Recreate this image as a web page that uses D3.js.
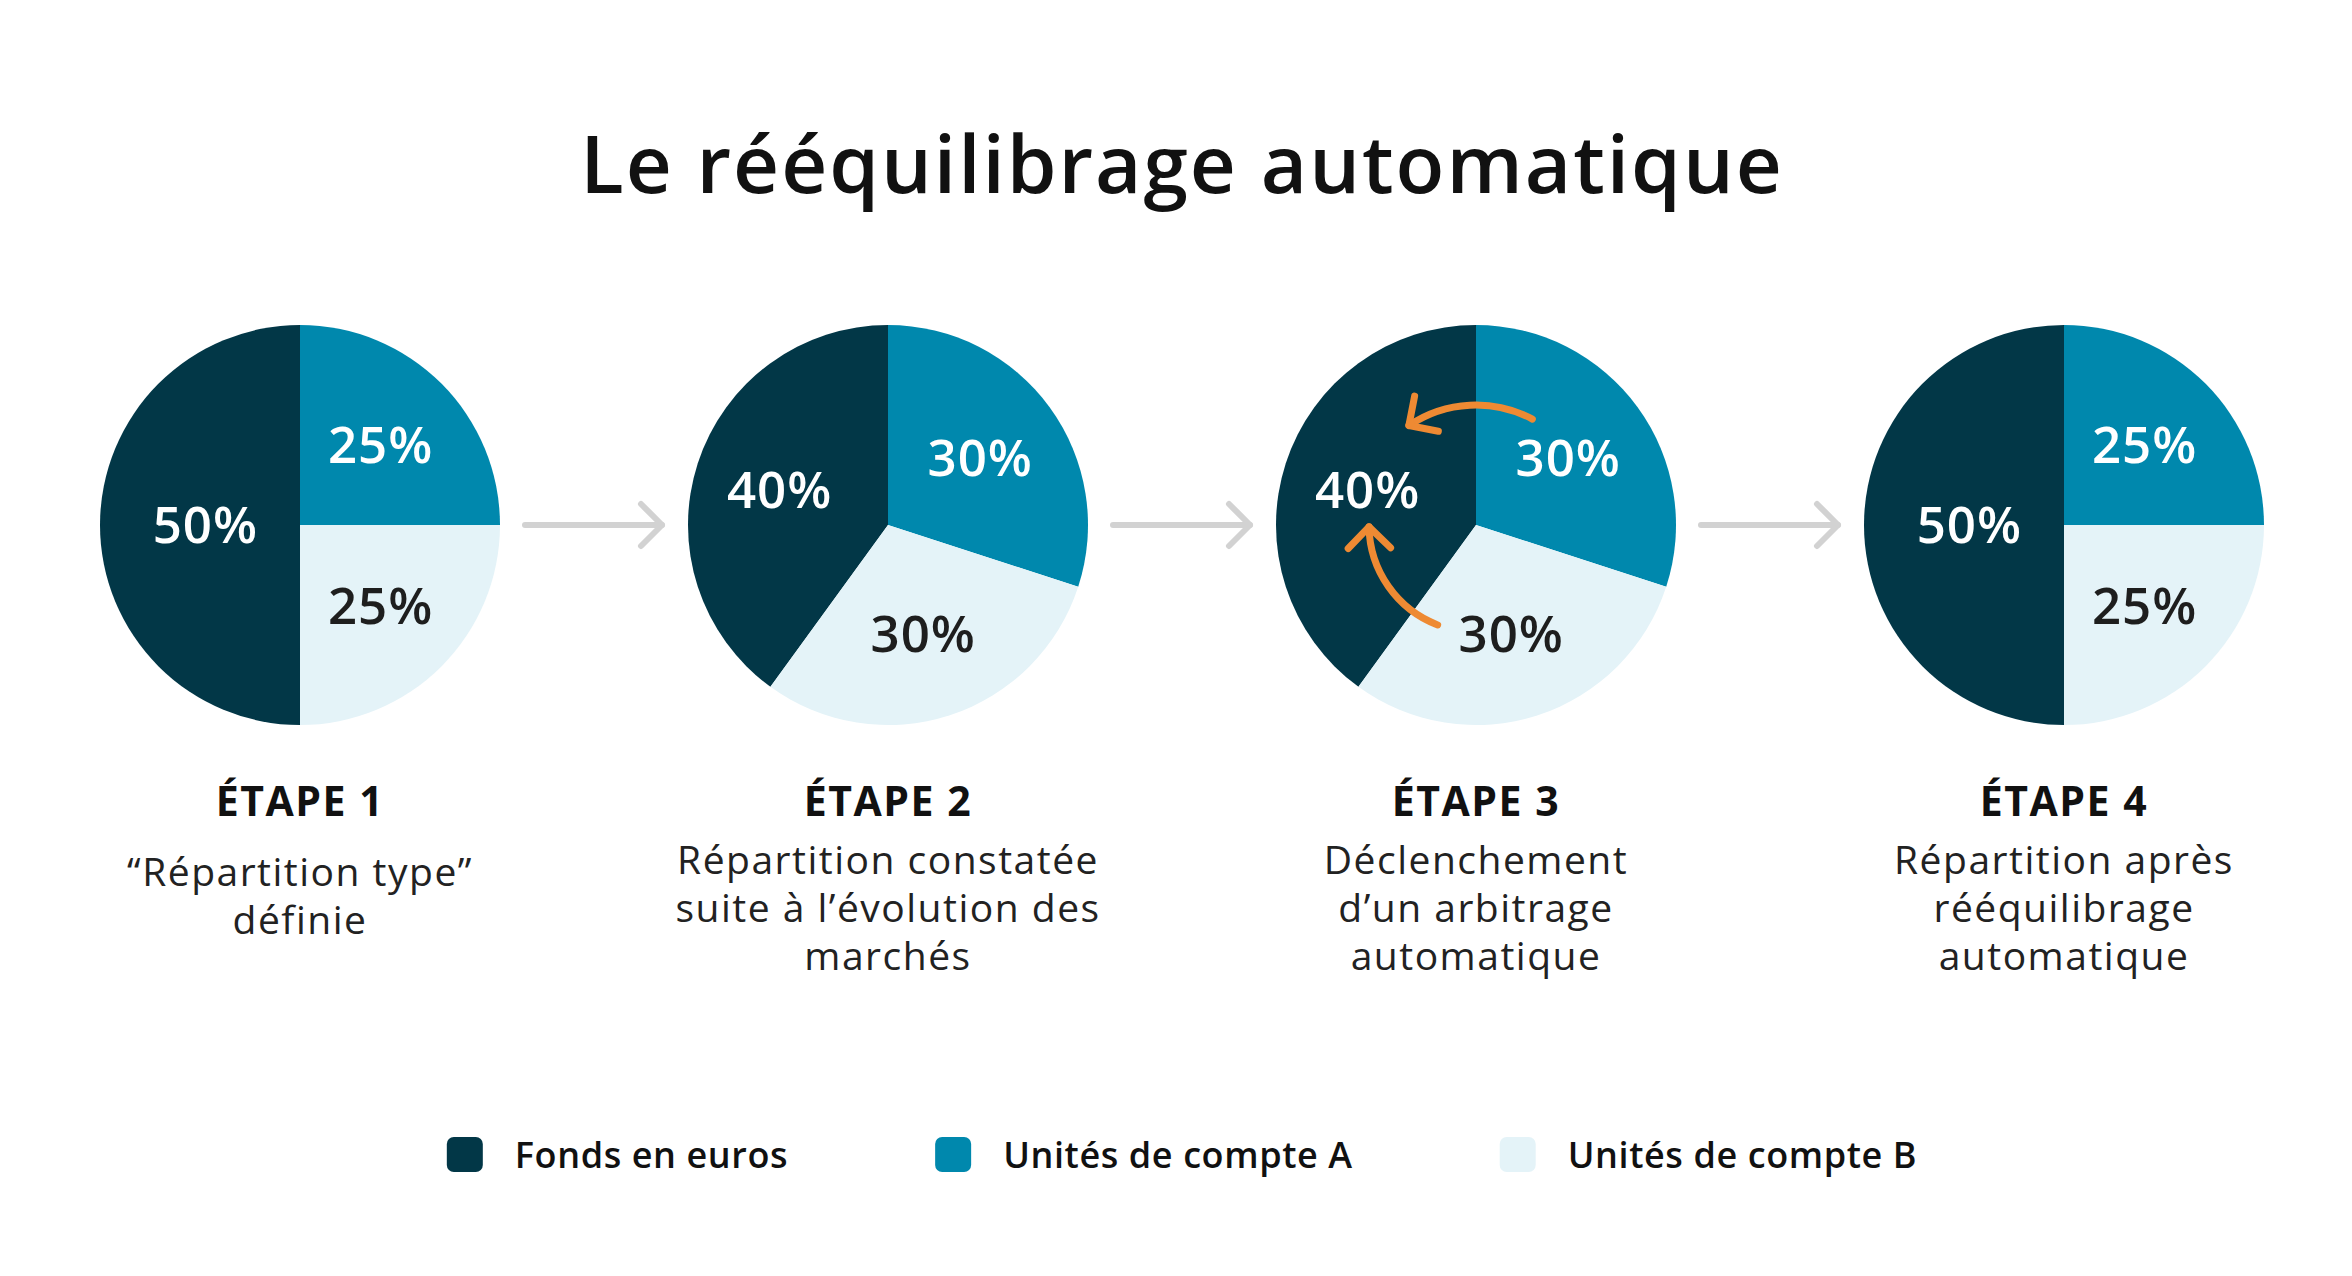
<!DOCTYPE html>
<html>
<head>
<meta charset="utf-8">
<script src="https://cdn.jsdelivr.net/npm/d3@7"></script>
<style>
  body { margin: 0; background: #fff; }
  svg { display: block; }
</style>
</head>
<body>
<svg id="chart" width="2352" height="1276"></svg>
<script>
// ------- Data ------
const categories = ["Fonds en euros", "Unités de compte A", "Unités de compte B"];
const steps = ["ÉTAPE 1", "ÉTAPE 2", "ÉTAPE 3", "ÉTAPE 4"];
const fonds = [50, 40, 40, 50];
const ucA = [25, 30, 30, 25];
const ucB = [25, 30, 30, 25];
const descriptions = [
  ["“Répartition type”", "définie"],
  ["Répartition constatée", "suite à l’évolution des", "marchés"],
  ["Déclenchement", "d’un arbitrage", "automatique"],
  ["Répartition après", "rééquilibrage", "automatique"]
];
// arbitrage arrows in step 3 (angles in degrees, clockwise from top)
const arbitrage = [
  { step: 2, from: 28, to: -34, rFrac: 0.6 },
  { step: 2, from: -159, to: -91, rFrac: 0.535 }
];

const colors = ["#023747", "#0088ad", "#e4f3f8"];
const labelColors = ["#ffffff", "#ffffff", "#1e1e1e"];
const font = "'Open Sans', 'Noto Sans', sans-serif";

const svg = d3.select("#chart");
const width = +svg.attr("width");

// graph title
svg.append("text")
  .attr("text-anchor", "middle")
  .attr("font-size", "80px")
  .attr("font-family", font)
  .attr("font-weight", 600)
  .attr("letter-spacing", "2px")
  .attr("fill", "#111")
  .attr("x", 1182)
  .attr("y", 193)
  .text("Le rééquilibrage automatique");

const cy = 525;
const radius = 200;
const x = d3.scalePoint().domain(steps).range([300, 2064]);
const color = d3.scaleOrdinal().domain(categories).range(colors);
const labelColor = d3.scaleOrdinal().domain(categories).range(labelColors);

const arc = d3.arc().innerRadius(0).outerRadius(radius);
const labelArc = d3.arc().innerRadius(radius * 0.57).outerRadius(radius * 0.57);

steps.forEach((s, i) => {
  const values = [fonds[i], ucA[i], ucB[i]];
  const start = -2 * Math.PI * fonds[i] / 100;
  const pie = d3.pie().sort(null).value(d => d.v)
    .startAngle(start).endAngle(start + 2 * Math.PI);
  const slices = pie(values.map((v, k) => ({ k: categories[k], v: v })));

  const g = svg.append("g").attr("transform", `translate(${x(s)},${cy})`);
  g.selectAll("path")
    .data(slices)
    .enter()
    .append("path")
    .attr("d", arc)
    .attr("fill", d => color(d.data.k));

  g.selectAll("text")
    .data(slices)
    .enter()
    .append("text")
    .attr("transform", d => {
      const c = labelArc.centroid(d);
      // half-pie label sits a little closer to the centre
      const f = d.data.v >= 50 ? 0.83 : 1;
      return `translate(${c[0] * f},${c[1] * f})`;
    })
    .attr("text-anchor", "middle")
    .attr("dy", "0.36em")
    .attr("font-family", font)
    .attr("font-size", "51px")
    .attr("font-weight", 600)
    .attr("letter-spacing", "1px")
    .attr("fill", d => labelColor(d.data.k))
    .text(d => d.data.v + "%");

  // step title
  svg.append("text")
    .attr("text-anchor", "middle")
    .attr("x", x(s))
    .attr("y", 816)
    .attr("font-family", font)
    .attr("font-size", "41px")
    .attr("font-weight", 700)
    .attr("letter-spacing", "1.5px")
    .attr("fill", "#111")
    .text(s);

  // description
  const lines = descriptions[i];
  const lineH = 48;
  const y0 = 874 + (3 - lines.length) * lineH * 0.25;
  lines.forEach((l, j) => {
    svg.append("text")
      .attr("text-anchor", "middle")
      .attr("x", x(s))
      .attr("y", y0 + j * lineH)
      .attr("font-family", font)
      .attr("font-size", "39px")
      .attr("letter-spacing", "1.5px")
      .attr("fill", "#222")
      .text(l);
  });

  // grey arrow to next step
  if (i < steps.length - 1) {
    const x1 = x(s) + 225, x2 = x(s) + 362;
    const ag = svg.append("g")
      .attr("stroke", "#d2d2d2")
      .attr("stroke-width", 6)
      .attr("stroke-linecap", "round")
      .attr("stroke-linejoin", "round")
      .attr("fill", "none");
    ag.append("line").attr("x1", x1).attr("x2", x2).attr("y1", cy).attr("y2", cy);
    ag.append("path").attr("d", `M${x2 - 21},${cy - 21}L${x2},${cy}L${x2 - 21},${cy + 21}`);
  }
});

// ------- orange arbitrage arrows ------
const rad = Math.PI / 180;
arbitrage.forEach(a => {
  const cx = x(steps[a.step]);
  const R = radius * a.rFrac;
  const t0 = a.from * rad, t1 = a.to * rad;
  const ccw = t1 < t0;
  const p = d3.path();
  p.moveTo(cx + R * Math.sin(t0), cy - R * Math.cos(t0));
  p.arc(cx, cy, R, t0 - Math.PI / 2, t1 - Math.PI / 2, ccw);

  const tipX = cx + R * Math.sin(t1), tipY = cy - R * Math.cos(t1);
  let dx = Math.cos(t1), dy = Math.sin(t1);
  if (ccw) { dx = -dx; dy = -dy; }
  const back = [-dx, -dy];
  const wing = ang => {
    const c = Math.cos(ang), sn = Math.sin(ang);
    return [tipX + 30 * (back[0] * c - back[1] * sn), tipY + 30 * (back[0] * sn + back[1] * c)];
  };
  const w1 = wing(Math.PI / 4), w2 = wing(-Math.PI / 4);

  const og = svg.append("g")
    .attr("stroke", "#ee8a33")
    .attr("stroke-width", 7)
    .attr("stroke-linecap", "round")
    .attr("stroke-linejoin", "round")
    .attr("fill", "none");
  og.append("path").attr("d", p.toString());
  og.append("path").attr("d", `M${w1[0]},${w1[1]}L${tipX},${tipY}L${w2[0]},${w2[1]}`);
});

// ------- Legend ------
const legend = svg.append("g");
const legendY = 1155;
let pos = 0;
categories.forEach((c, i) => {
  const item = legend.append("g").attr("transform", `translate(${pos},0)`);
  item.append("rect")
    .attr("x", 0)
    .attr("y", legendY - 18)
    .attr("width", 36)
    .attr("height", 35)
    .attr("rx", 7)
    .attr("fill", color(c));
  const t = item.append("text")
    .attr("x", 68)
    .attr("y", legendY)
    .attr("dy", "0.36em")
    .attr("font-family", font)
    .attr("font-size", "36px")
    .attr("font-weight", 600)
    .attr("letter-spacing", "0.6px")
    .attr("fill", "#111")
    .text(c);
  pos += 68 + t.node().getComputedTextLength() + 147;
});
const legendW = pos - 147;
legend.attr("transform", `translate(${1182 - legendW / 2},0)`);
</script>
</body>
</html>
